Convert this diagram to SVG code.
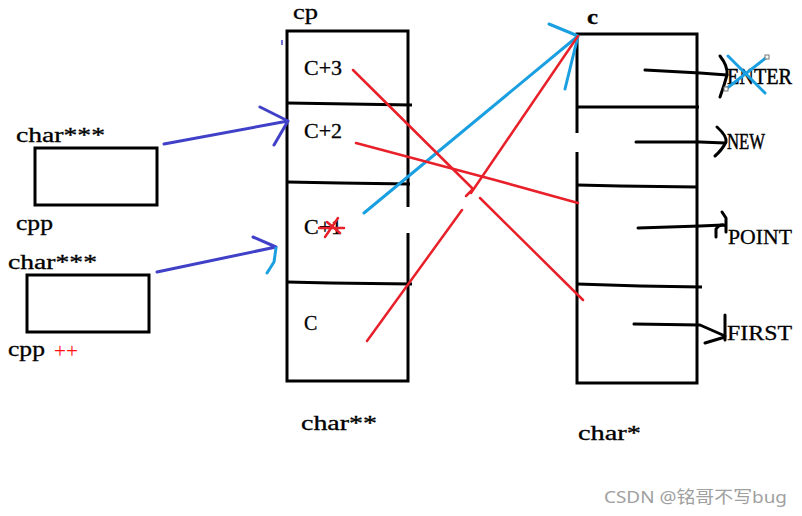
<svg xmlns="http://www.w3.org/2000/svg" width="802" height="516" viewBox="0 0 802 516">
<style>
.box{fill:none;stroke:#000;stroke-width:3}
.blk{fill:none;stroke:#000;stroke-width:3;stroke-linecap:round;stroke-linejoin:round}
.red{fill:none;stroke:#e8202a;stroke-width:2.5;stroke-linecap:round}
.blue{fill:none;stroke:#4040c8;stroke-width:3;stroke-linecap:round;stroke-linejoin:round}
.cyan{fill:none;stroke:#1a9fe0;stroke-width:3;stroke-linecap:round;stroke-linejoin:round}
.t{font-family:"Liberation Serif",serif;font-size:20px;fill:#000;stroke:#000;stroke-width:0.3}
.n{font-family:"Liberation Serif",serif;font-size:24px;fill:#000;stroke:#000;stroke-width:0.5}
.m{font-family:"Liberation Serif",serif;font-size:22px;fill:#000;stroke:#000;stroke-width:0.3}
.wm{font-family:"Noto Sans","Noto Sans CJK SC",sans-serif;font-size:17px;fill:#a0a0a0}
</style>
<rect width="802" height="516" fill="#fff"/>

<g id="cpp1">
<rect class="box" x="35" y="148" width="122" height="57"/>
<text class="t" x="16" y="142" textLength="89" lengthAdjust="spacingAndGlyphs">char***</text>
<text class="t" x="16" y="230" textLength="37" lengthAdjust="spacingAndGlyphs">cpp</text>
</g>

<g id="cpp2">
<rect class="box" x="27" y="275" width="122" height="57"/>
<text class="t" x="8" y="269" textLength="89" lengthAdjust="spacingAndGlyphs">char***</text>
<text class="t" x="8" y="356" textLength="37" lengthAdjust="spacingAndGlyphs">cpp</text>
<text x="54" y="358" font-family="Liberation Serif, serif" font-size="20" fill="#ff1010" textLength="24" lengthAdjust="spacingAndGlyphs">++</text>
</g>

<g id="cp">
<path class="box" d="M408,207 V31 H287 V381 H408 V233"/>
<path class="box" d="M287,103 L350,104 L412,105"/>
<path class="box" d="M287,182 L340,183 L410,184"/>
<path class="box" d="M287,282 L330,283 L412,284"/>
<text class="t" x="293" y="19" textLength="25" lengthAdjust="spacingAndGlyphs">cp</text>
<text class="t" x="304" y="75" textLength="38" lengthAdjust="spacingAndGlyphs">C+3</text>
<text class="t" x="304" y="138" textLength="38" lengthAdjust="spacingAndGlyphs">C+2</text>
<text class="t" x="304" y="234" textLength="38" lengthAdjust="spacingAndGlyphs">C+1</text>
<text class="t" x="304" y="330">C</text>
<text class="t" x="301" y="430" textLength="76" lengthAdjust="spacingAndGlyphs">char**</text>
</g>

<g id="c">
<path class="box" d="M577,133 V34 H697 V383 H577 V152"/>
<path class="box" d="M577,107 H699"/>
<path class="box" d="M577,185 L620,186 L697,187"/>
<path class="box" d="M577,284 L640,286 L702,287"/>
<text class="t" x="587" y="24" font-weight="bold" textLength="11" lengthAdjust="spacingAndGlyphs">c</text>
<text class="t" x="578" y="440" textLength="63" lengthAdjust="spacingAndGlyphs">char*</text>
</g>

<g id="strings">
<text class="n" x="727" y="84" textLength="65" lengthAdjust="spacingAndGlyphs">ENTER</text>
<text class="n" x="727" y="149" textLength="38" lengthAdjust="spacingAndGlyphs">NEW</text>
<text class="m" x="728" y="244" textLength="64" lengthAdjust="spacingAndGlyphs">POINT</text>
<text class="m" x="727" y="340" textLength="65" lengthAdjust="spacingAndGlyphs">FIRST</text>
</g>

<g id="connectors">
<path class="blk" d="M645,70 L700,73 L727,75"/>
<path class="blk" d="M720,56 Q728,66 727,75 Q724,86 720,97"/>
<path class="blk" d="M636,142 L700,142 L725,143"/>
<path class="blk" d="M717,127 Q727,136 726,142 Q722,150 715,156"/>
<path class="blk" d="M638,228 L700,226 L723,225"/>
<path class="blk" d="M716,237 V229 Q720,223 726,226 L726,232 M722,212 L726,218 L726,226"/>
<path class="blk" d="M634,324 L700,325 L725,336"/>
<path class="blk" d="M725,315 V340 M705,343 L725,337"/>
<path class="cyan" d="M728,56 L765,93 M767,57 L726,89"/>
<rect x="765" y="55" width="4" height="4" fill="#fff" stroke="#777" stroke-width="1"/>
<rect x="724" y="87" width="4" height="4" fill="#fff" stroke="#777" stroke-width="1"/>

<path class="blue" d="M164,144 L288,121 M260,107 L288,121 L274,145"/>
<path class="blue" d="M157,272 L276,247 M253,237 L276,247"/>
<path class="cyan" d="M276,248 L274,262 L267,273"/>
<path d="M282,40 L282,45" stroke="#4040c8" stroke-width="1.5"/>

<path class="cyan" d="M364,213 L578,36 M549,24 L578,36 L565,89"/>
<path class="red" d="M353,70 L473,189 M480,198 L583,300"/>
<path class="red" d="M356,143 L495,180 L578,203"/>
<path class="red" d="M367,341 L462,210 M471,193 L578,36"/>
<path class="red" d="M466,196 L473,189"/>
<path class="red" stroke-width="3" d="M319,228 L344,228 M325,237 L338,218 M327,222 L340,233"/>
</g>

<text class="wm" x="604" y="503" textLength="183" lengthAdjust="spacingAndGlyphs">CSDN @铭哥不写bug</text>
</svg>
